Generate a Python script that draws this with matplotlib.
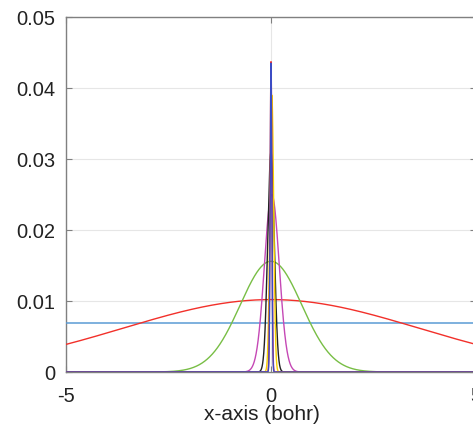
"""
Wave packet densities along the x-axis (bohr).
Saves out.png (473x427).
"""

import matplotlib.pyplot as plt
import numpy as np

plt.rcParams["font.family"] = ["Liberation Sans", "DejaVu Sans"]

# flat (uniform) density
flat_level = 0.0069
flat_color = "#5a9bd5"

# gaussian packets: peak height, centre, width (bohr)
packet_names = ["red_wide", "green", "magenta", "black", "yellow", "red_narrow", "blue"]
packet_peaks = [0.0102, 0.0156, 0.0250, 0.0310, 0.0390, 0.0437, 0.0435]
packet_centres = [0.0, 0.0, 0.02, 0.0, 0.02, 0.0, 0.0]
packet_widths = [3.6, 0.75, 0.18, 0.08, 0.045, 0.022, 0.02]
packet_colors = ["#f2302a", "#78be45", "#c548b5", "#222222", "#f5d000", "#f2302a", "#3c4cc4"]

x_ticks = [-5, 0, 5]
y_ticks = [0, 0.01, 0.02, 0.03, 0.04, 0.05]
y_tick_labels = ["0", "0.01", "0.02", "0.03", "0.04", "0.05"]


def main() -> None:
    fig = plt.figure(figsize=(4.73, 4.27), dpi=100)
    ax = fig.add_axes([66 / 473, (427 - 373) / 427, 410 / 473, 355 / 427])

    x = np.linspace(-5, 5, 4001)

    ax.plot([-5, 5], [flat_level, flat_level], color=flat_color, lw=1.1, zorder=3)

    for peak, centre, width, color in zip(packet_peaks, packet_centres, packet_widths, packet_colors):
        y = peak * np.exp(-((x - centre) ** 2) / (2 * width**2))
        ax.plot(x, y, color=color, lw=1.0, zorder=3)

    ax.set_xlim(-5, 5)
    ax.set_ylim(0, 0.05)
    ax.set_xticks(x_ticks)
    ax.set_xticklabels([str(t) for t in x_ticks])
    ax.set_yticks(y_ticks)
    ax.set_yticklabels(y_tick_labels)

    ax.grid(True, color="#e6e6e6", lw=0.8, zorder=0)
    ax.set_axisbelow(True)

    for side in ["left", "top", "bottom", "right"]:
        ax.spines[side].set_color("#808080")
        ax.spines[side].set_linewidth(1.0)

    ax.tick_params(direction="in", length=4, width=0.8, colors="#808080",
                   labelcolor="#222222", labelsize=14.5, top=True, right=True)
    ax.tick_params(axis="x", pad=10)
    ax.tick_params(axis="y", pad=8)

    ax.set_xlabel("x-axis (bohr)", fontsize=15, color="#222222")
    ax.xaxis.set_label_coords(0.478, -0.09)

    fig.savefig("out.png", dpi=100)
    plt.close(fig)


if __name__ == "__main__":
    main()
